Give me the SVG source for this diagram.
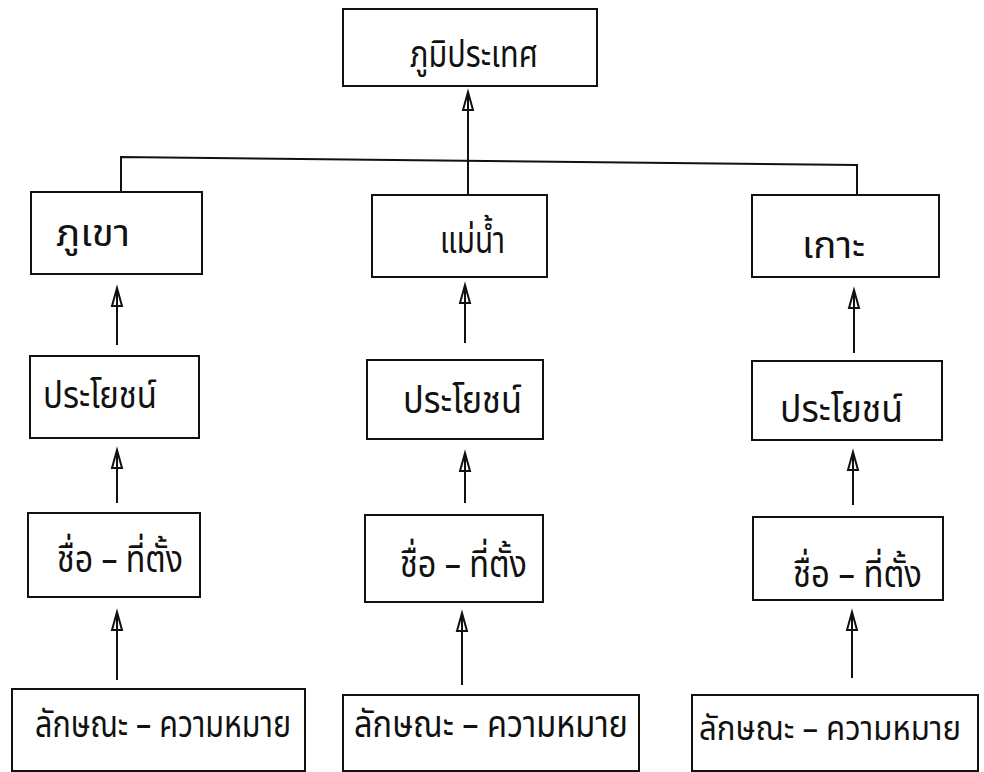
<svg xmlns="http://www.w3.org/2000/svg" width="984" height="772" viewBox="0 0 984 772">
<defs>
<style>
.box{fill:#fff;stroke:#111;stroke-width:2}
.lbl{font-family:"Noto Sans Thai","Noto Sans","DejaVu Sans","Liberation Sans",sans-serif;font-size:38px;fill:#111}
.con{fill:none;stroke:#111;stroke-width:2}
</style>
<marker id="ah" viewBox="-22 -7 26 14" refX="0" refY="0" markerWidth="26" markerHeight="14" markerUnits="userSpaceOnUse" orient="auto">
<path d="M0,0 L-18,-5 L-18,5 Z" fill="none" stroke="#111" stroke-width="2" stroke-linejoin="miter"/>
</marker>
</defs>
<rect width="984" height="772" fill="#fff"/>
<g id="connectors">
<path class="con" d="M468,195 L468,92" marker-end="url(#ah)"/>
<path class="con" d="M121,192 L121,157 L857,165 L857,195"/>
<path class="con" d="M117,345 L117,288" marker-end="url(#ah)"/>
<path class="con" d="M465,343 L465,285" marker-end="url(#ah)"/>
<path class="con" d="M854,353 L854,290" marker-end="url(#ah)"/>
<path class="con" d="M117,503 L117,450" marker-end="url(#ah)"/>
<path class="con" d="M465,503 L465,453" marker-end="url(#ah)"/>
<path class="con" d="M853,505 L853,452" marker-end="url(#ah)"/>
<path class="con" d="M117,680 L117,612" marker-end="url(#ah)"/>
<path class="con" d="M462,685 L462,613" marker-end="url(#ah)"/>
<path class="con" d="M852,678 L852,612" marker-end="url(#ah)"/>
</g>
<g id="n-top"><rect class="box" x="343" y="9" width="254" height="77"/><text class="lbl" x="410" y="67" textLength="128" lengthAdjust="spacingAndGlyphs">ภูมิประเทศ</text></g>
<g id="n-mountain"><rect class="box" x="31" y="192" width="171" height="82"/><text class="lbl" x="56" y="246" textLength="74" lengthAdjust="spacingAndGlyphs">ภูเขา</text></g>
<g id="n-river"><rect class="box" x="372" y="195" width="175" height="82"/><text class="lbl" x="440" y="253" textLength="65" lengthAdjust="spacingAndGlyphs">แม่น้ำ</text></g>
<g id="n-island"><rect class="box" x="752" y="195" width="187" height="82"/><text class="lbl" x="802" y="258" textLength="63" lengthAdjust="spacingAndGlyphs">เกาะ</text></g>
<g id="n-benefit-1"><rect class="box" x="30" y="356" width="169" height="82"/><text class="lbl" x="43" y="408" textLength="114" lengthAdjust="spacingAndGlyphs">ประโยชน์</text></g>
<g id="n-benefit-2"><rect class="box" x="367" y="360" width="176" height="79"/><text class="lbl" x="403" y="413" textLength="119" lengthAdjust="spacingAndGlyphs">ประโยชน์</text></g>
<g id="n-benefit-3"><rect class="box" x="752" y="361" width="190" height="79"/><text class="lbl" x="780" y="422" textLength="123" lengthAdjust="spacingAndGlyphs">ประโยชน์</text></g>
<g id="n-name-1"><rect class="box" x="28" y="513" width="172" height="84"/><text class="lbl" x="57" y="572" textLength="126" lengthAdjust="spacingAndGlyphs">ชื่อ – ที่ตั้ง</text></g>
<g id="n-name-2"><rect class="box" x="365" y="515" width="178" height="87"/><text class="lbl" x="400" y="577" textLength="127" lengthAdjust="spacingAndGlyphs">ชื่อ – ที่ตั้ง</text></g>
<g id="n-name-3"><rect class="box" x="753" y="517" width="190" height="83"/><text class="lbl" x="793" y="587" textLength="129" lengthAdjust="spacingAndGlyphs">ชื่อ – ที่ตั้ง</text></g>
<g id="n-feature-1"><rect class="box" x="12" y="689" width="293" height="82"/><text class="lbl" x="35" y="737" textLength="256" lengthAdjust="spacingAndGlyphs">ลักษณะ – ความหมาย</text></g>
<g id="n-feature-2"><rect class="box" x="343" y="695" width="296" height="76"/><text class="lbl" x="354" y="737" textLength="274" lengthAdjust="spacingAndGlyphs">ลักษณะ – ความหมาย</text></g>
<g id="n-feature-3"><rect class="box" x="692" y="695" width="286" height="76"/><text class="lbl" x="699" y="740" style="font-size:34px" textLength="262" lengthAdjust="spacingAndGlyphs">ลักษณะ – ความหมาย</text></g>
</svg>
